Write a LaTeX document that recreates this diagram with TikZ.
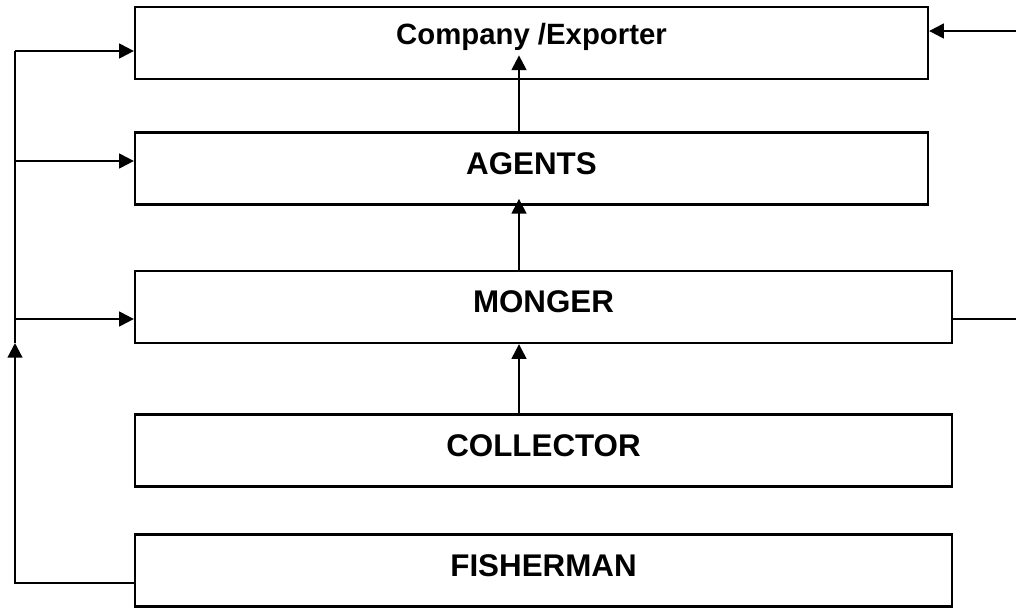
\documentclass[tikz,border=0pt]{standalone}
\usepackage{fontspec}
\setmainfont{Liberation Sans}
\usetikzlibrary{arrows.meta}

\tikzset{
  box/.style={draw, rectangle, line width=1.7pt, inner sep=0pt, minimum height=54pt,
    font=\fontsize{23.5pt}{28pt}\selectfont\bfseries, text height=16.8pt, text depth=8.4pt},
  narrowbox/.style={box, minimum width=594.75pt},
  widebox/.style={box, minimum width=612.75pt},
  arr/.style={line width=1.7pt, -{Triangle[length=11pt,width=11pt]}},
  plain/.style={line width=1.7pt}
}

\begin{document}
\begin{tikzpicture}[x=0.75pt,y=0.75pt,yscale=-1,xscale=1]
\useasboundingbox (0,0) rectangle (1016,607);

% Boxes
\node [narrowbox, font=\fontsize{22pt}{26pt}\selectfont\bfseries, text height=15.7pt, text depth=13.5pt] (company) at (531.5,43) {Company /Exporter};
\node [narrowbox] (agents) at (531.5,168.5) {AGENTS};
\node [widebox] (monger) at (543.5,307) {MONGER};
\node [widebox] (collector) at (543.5,450.5) {COLLECTOR};
\node [widebox] (fisherman) at (543.5,570.5) {FISHERMAN};

% Helper points
\coordinate (spine) at (519,0);
\coordinate (bustop) at (15,51);
\coordinate (bustip) at (15,343);
\coordinate (busmid) at (15,161);
\coordinate (buslow) at (15,319);
\coordinate (fishout) at (135,583);
\coordinate (extin) at (1016,31);
\coordinate (extout) at (1016,319);

% Main chain
\draw [arr] (spine |- collector.north) -- (spine |- monger.south);
\draw [arr] (spine |- monger.north) -- ++(0,-71);
\draw [arr] (spine |- agents.north) -- ++(0,-76);

% Left bus
\draw [arr] (fishout) -| (bustip);
\draw [plain] (bustop) -- (bustip);
\draw [arr] (bustop) -- (bustop -| company.west);
\draw [arr] (busmid) -- (busmid -| agents.west);
\draw [arr] (buslow) -- (buslow -| monger.west);

% Right side
\draw [arr] (extin) -- (extin -| company.east);
\draw [plain] (extout -| monger.east) -- (extout);

\end{tikzpicture}
\end{document}
